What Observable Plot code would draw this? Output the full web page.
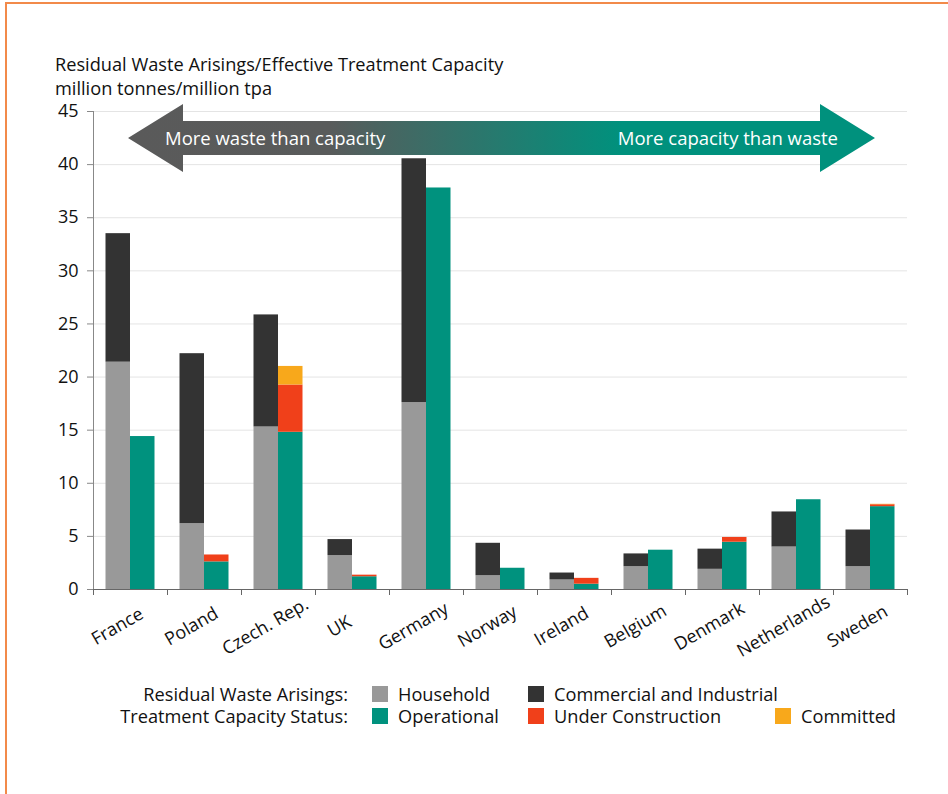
<!DOCTYPE html>
<html><head><meta charset="utf-8">
<script src="https://cdn.jsdelivr.net/npm/d3@7"></script>
<script src="https://cdn.jsdelivr.net/npm/@observablehq/plot@0.6"></script>
<style>
html,body{margin:0;padding:0;background:#fff;}
#wrap{position:relative;width:948px;height:794px;overflow:hidden;font-family:"Open Sans",sans-serif;color:#111;}
#border{position:absolute;left:5px;top:2px;right:-10px;bottom:-10px;border-left:2px solid #f28a4a;border-top:2px solid #f28a4a;}
.title{position:absolute;left:55px;font-size:18.2px;line-height:25px;white-space:nowrap;}
#chart{position:absolute;left:0;top:88px;}
#legend{position:absolute;left:0;top:683px;width:948px;font-size:18.2px;}
.row{position:relative;height:22px;line-height:22px;}
.rl{position:absolute;left:0;width:348px;text-align:right;white-space:nowrap;}
.it{position:absolute;white-space:nowrap;}
.sw{display:inline-block;width:16px;height:16px;vertical-align:-1px;margin-right:10px;}
</style></head>
<body><div id="wrap"><div id="border"></div>
<div class="title" id="t1" style="top:52px">Residual Waste Arisings/Effective Treatment Capacity</div>
<div class="title" id="t2" style="top:76px">million tonnes/million tpa</div>
<div id="chart"></div><div id="legend"></div></div>
<script>
// ---- data ----
const countries = ["France","Poland","Czech. Rep.","UK","Germany","Norway","Ireland","Belgium","Denmark","Netherlands","Sweden"];
const household         = [21.4, 6.2, 15.3, 3.2, 17.6, 1.3, 0.9, 2.15, 1.9, 4.0, 2.15];
const commercial        = [12.1, 16.0, 10.55, 1.5, 22.95, 3.05, 0.65, 1.2, 1.9, 3.3, 3.45];
const operational       = [14.4, 2.6, 14.8, 1.2, 37.8, 2.0, 0.5, 3.7, 4.45, 8.45, 7.8];
const underConstruction = [0, 0.65, 4.45, 0.15, 0, 0, 0.55, 0, 0.45, 0, 0.18];
const committed         = [0, 0, 1.75, 0, 0, 0, 0, 0, 0, 0, 0.04];
const yTicks = [0,5,10,15,20,25,30,35,40,45];
const arisingTypes = ["Household","Commercial and Industrial"];
const capacityTypes = ["Operational","Under Construction","Committed"];
const typeColors = ["#999999","#333333","#00927e","#f0401a","#f8a81b"];
const legendRows = [
  {label:"Residual Waste Arisings:", types: arisingTypes},
  {label:"Treatment Capacity Status:", types: capacityTypes}
];
const arrowTexts = ["More waste than capacity","More capacity than waste"];

// ---- long tables ----
const arisings = [];
countries.forEach((c,i)=>{
  [household, commercial].forEach((s,k)=>{ if (s[i]>0) arisings.push({country:c, type:arisingTypes[k], value:s[i]}); });
});
const capacity = [];
countries.forEach((c,i)=>{
  [operational, underConstruction, committed].forEach((s,k)=>{ if (s[i]>0) capacity.push({country:c, type:capacityTypes[k], value:s[i]}); });
});

const W = 948, ML = 93, MR = 41;
const step = (W - ML - MR) / countries.length; // 74
const half = step / 2;
const barW = 24.5;
const outer = half - barW;

const plot = Plot.plot({
  width: W, height: 600,
  marginTop: 23, marginBottom: 99, marginLeft: ML, marginRight: MR,
  style: {fontFamily: "Open Sans, sans-serif", fontSize: "18px", color: "#111", background: "transparent"},
  x: {domain: countries, padding: 0, axis: null},
  y: {domain: [0, 45], axis: null},
  color: {domain: [...arisingTypes, ...capacityTypes], range: typeColors},
  marks: [
    Plot.gridY(yTicks.slice(1), {stroke: "#e4e4e4", strokeOpacity: 1}),
    Plot.barY(arisings, {x: "country", y: "value", fill: "type", insetLeft: outer, insetRight: half}),
    Plot.barY(capacity, {x: "country", y: "value", fill: "type", insetLeft: half, insetRight: outer}),
    Plot.ruleX([countries[0]], {dx: -half, stroke: "#888"}),
    Plot.ruleY([0], {stroke: "#666"}),
    Plot.axisY(yTicks, {tickSize: 6, tickPadding: 9, stroke: "#888", fill: "#111", fontSize: 18, label: null}),
    Plot.axisX(countries, {tickSize: 6, tickFormat: () => "", dx: -half, stroke: "#666", label: null}),
    Plot.axisX([countries[countries.length-1]], {tickSize: 6, tickFormat: () => "", dx: half, stroke: "#666", label: null}),
    Plot.text(countries, {x: d => d, frameAnchor: "bottom", text: d => d, rotate: -30, textAnchor: "middle", lineAnchor: "middle", dx: -13, dy: 37, fontSize: 18, fill: "#111"})
  ]
});
document.getElementById("chart").appendChild(plot);

// ---- arrow annotation ----
const svg = d3.select(plot);
const cy = plot.scale("y").apply(42.45);
const L = 128, Lb = 183, Rb = 820, R = 875, hh = 34, sh = 17;
const grad = svg.append("defs").append("linearGradient").attr("id","arrowGrad")
  .attr("gradientUnits","userSpaceOnUse").attr("x1",L).attr("x2",R).attr("y1",0).attr("y2",0);
[[0,"#5a5a5a"],[0.27,"#595b5b"],[0.66,"#00917d"],[1,"#00917d"]].forEach(([o,c])=>grad.append("stop").attr("offset",o).attr("stop-color",c));
svg.append("path")
  .attr("d", `M${L},${cy}L${Lb},${cy-hh}L${Lb},${cy-sh}L${Rb},${cy-sh}L${Rb},${cy-hh}L${R},${cy}L${Rb},${cy+hh}L${Rb},${cy+sh}L${Lb},${cy+sh}L${Lb},${cy+hh}Z`)
  .attr("fill","url(#arrowGrad)");
svg.append("text").attr("x",165).attr("y",cy+6.5).attr("fill","#fff").attr("font-size",18.5).attr("text-anchor","start").text(arrowTexts[0]);
svg.append("text").attr("x",838).attr("y",cy+6.5).attr("fill","#fff").attr("font-size",18.5).attr("text-anchor","end").text(arrowTexts[1]);

// ---- legend ----
const colX = [372, 528, 775];
const allTypes = [...arisingTypes, ...capacityTypes];
const leg = d3.select("#legend");
legendRows.forEach(r=>{
  const row = leg.append("div").attr("class","row");
  row.append("div").attr("class","rl").text(r.label);
  r.types.forEach((t,j)=>{
    const it = row.append("div").attr("class","it").style("left", colX[j]+"px");
    it.append("span").attr("class","sw").style("background", typeColors[allTypes.indexOf(t)]);
    it.append("span").text(t);
  });
});
</script>
</body></html>
